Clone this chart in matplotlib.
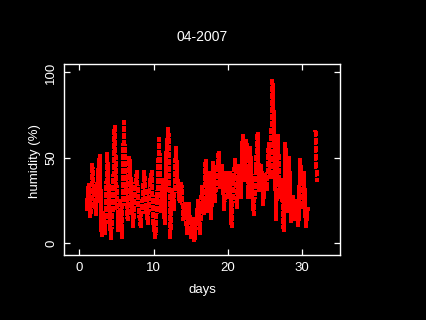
import numpy as np
import matplotlib
matplotlib.use('Agg')
import matplotlib.pyplot as plt

humidity = [
    20, 34, 16, 46,   30, 17, 40, 51,   5, 18, 6, 52,
    28, 3, 20, 68,    35, 8, 25, 4,     71, 33, 14, 50,
    30, 10, 33, 42,   19, 10, 25, 42,   19, 12, 36, 42,
    10, 4, 27, 61,    19, 37, 12, 55,   67, 4, 31, 20,
    56, 35, 25, 35,   14, 23, 6, 23,    4, 14, 2, 12,
    25, 6, 33, 18,    48, 19, 41, 15,   47, 25, 40, 53,
    33, 45, 20, 41,   27, 41, 10, 37,   49, 21, 45, 27,
    63, 37, 60, 27,   56, 30, 17, 43,   64, 31, 45, 23,
    40, 32, 58, 39,   95, 66, 14, 63,   27, 37, 8, 58,
    19, 50, 13, 27,   14, 25, 11, 49,   21, 41, 10, 20,
]
start_day = 1.0
step = 0.25

# letztes Stueck am Monatsende
tail_days = [31.8, 31.85, 31.9, 31.95, 32.0]
tail_humidity = [66, 58, 50, 42, 36]

days = start_day + step * np.arange(len(humidity))

fg = 'white'
red = '#ff0000'
plt.rcParams['font.family'] = ['Liberation Sans', 'DejaVu Sans']

fig = plt.figure(figsize=(4.26, 3.2), dpi=100, facecolor='black')
ax = fig.add_axes([0.1502, 0.2031, 0.6479, 0.5969])
ax.set_facecolor('black')

# gepunktete, nicht geglaettete Linie -> wirkt wie dicht gesetzte Punkte
ax.plot(days, humidity, color=red, lw=2.3, ls=(0, (1.6, 0.5)),
        solid_capstyle='butt', dash_capstyle='butt', antialiased=False)
ax.plot(days, humidity, color=red, ls='none', marker='s', ms=2.2, mew=0,
        antialiased=False)
ax.plot(tail_days, tail_humidity, color=red, lw=2.3, ls=(0, (1.6, 0.9)),
        dash_capstyle='butt', antialiased=False)

ax.set_xlim(-2.06, 35.1)
ax.set_ylim(-6.8, 104.9)
ax.set_xticks([0, 10, 20, 30])
ax.set_yticks([0, 50, 100])

for s in ax.spines.values():
    s.set_color(fg)
    s.set_linewidth(1.0)
ax.tick_params(direction='in', length=4.3, width=0.9, colors=fg,
               top=True, right=True, labelsize=9.5, pad=5)
for lab in ax.get_yticklabels():
    lab.set_rotation(90)
    lab.set_va('center')

fig.text(0.475, 0.885, '04-2007', color=fg, fontsize=10, ha='center', va='center')
fig.text(0.475, 0.0855, 'days', color=fg, fontsize=9.5, ha='center', va='baseline')
fig.text(0.083, 0.4975, 'humidity (%)', color=fg, fontsize=9.5, ha='center', va='center',
         rotation=90)

fig.savefig('out.png', dpi=100, facecolor='black')
